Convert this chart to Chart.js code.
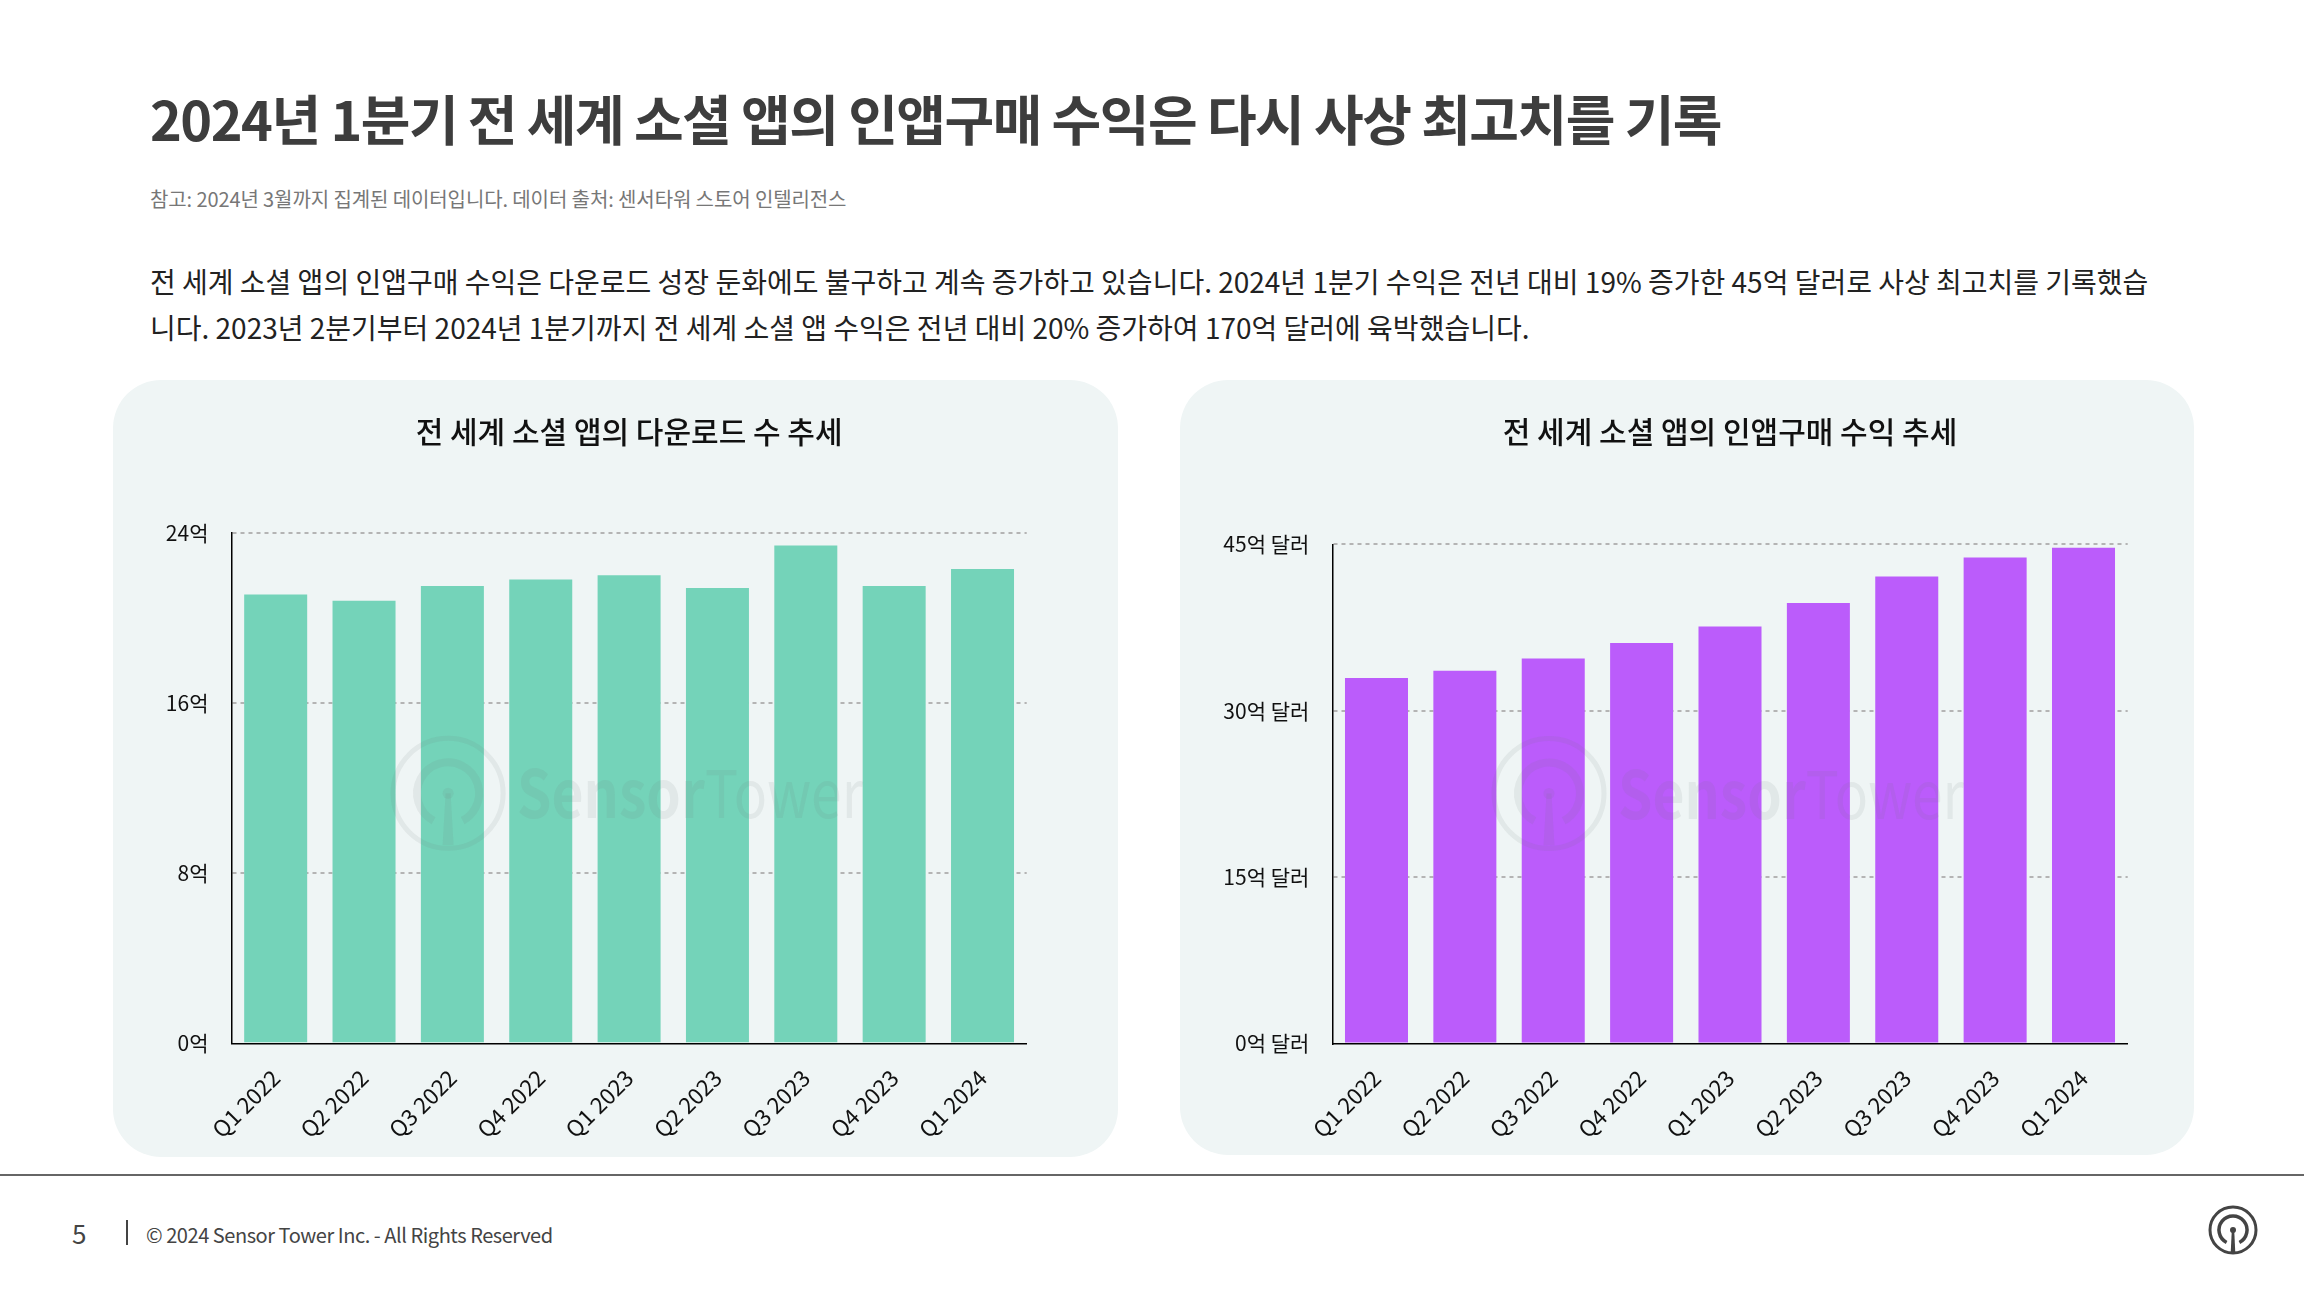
<!DOCTYPE html>
<html><head><meta charset="utf-8">
<script src="https://cdn.jsdelivr.net/npm/chart.js@4.4.1/dist/chart.umd.min.js"></script>
<style>
html,body{margin:0;padding:0;background:#fff;}
body{width:2304px;height:1296px;position:relative;overflow:hidden;font-family:'Noto Sans CJK KR','Noto Sans',sans-serif;}
.abs{position:absolute;white-space:nowrap;}
#title{left:150px;top:91px;font-size:54px;line-height:54px;font-weight:700;color:#3d3d3d;letter-spacing:-1.5px;}
#note{left:150px;top:189px;font-size:20px;line-height:20px;color:#777;letter-spacing:-0.1px;}
#body{left:150px;top:258px;font-size:28px;line-height:46px;color:#222;letter-spacing:0px;}
.panel{position:absolute;background:#eff5f5;border-radius:48px;}
#p1{left:113px;top:380px;width:1005px;height:777px;}
#p2{left:1180px;top:380px;width:1014px;height:775px;}
.panel canvas{position:absolute;left:0;top:0;}
#sep{left:0;top:1174px;width:2304px;height:2px;background:#666;}
#pg{left:72px;top:1220px;font-size:26px;line-height:26px;color:#444;}
#bar{left:126px;top:1220px;width:2px;height:25px;background:#444;}
#copy{left:146px;top:1225px;font-size:20px;line-height:20px;color:#444;letter-spacing:-0.45px;}
#logo{left:2205px;top:1202px;}
</style></head>
<body>
<div id="title" class="abs">2024년 1분기 전 세계 소셜 앱의 인앱구매 수익은 다시 사상 최고치를 기록</div>
<div id="note" class="abs">참고: 2024년 3월까지 집계된 데이터입니다. 데이터 출처: 센서타워 스토어 인텔리전스</div>
<div id="body" class="abs">전 세계 소셜 앱의 인앱구매 수익은 다운로드 성장 둔화에도 불구하고 계속 증가하고 있습니다. 2024년 1분기 수익은 전년 대비 19% 증가한 45억 달러로 사상 최고치를 기록했습<br>니다. 2023년 2분기부터 2024년 1분기까지 전 세계 소셜 앱 수익은 전년 대비 20% 증가하여 170억 달러에 육박했습니다.</div>
<div id="p1" class="panel"><div style="position:absolute;left:0;top:0;width:1005px;height:777px;"><canvas id="c1"></canvas></div></div>
<div id="p2" class="panel"><div style="position:absolute;left:0;top:0;width:1014px;height:775px;"><canvas id="c2"></canvas></div></div>
<div id="sep" class="abs"></div>
<div id="pg" class="abs">5</div>
<div id="bar" class="abs"></div>
<div id="copy" class="abs">© 2024 Sensor Tower Inc. - All Rights Reserved</div>
<svg id="logo" class="abs" width="56" height="56" viewBox="0 0 56 56">
  <circle cx="28" cy="28" r="23" fill="none" stroke="#444" stroke-width="3"/>
  <path d="M 21.6 40.5 A 14 14 0 1 1 34.4 40.5" fill="none" stroke="#444" stroke-width="3.5"/>
  <circle cx="28" cy="28" r="3" fill="#444"/>
  <path d="M 26.8 28 L 29.2 28 L 30.3 51 L 25.7 51 Z" fill="#444"/>
</svg>
<script>
const categories = ['Q1 2022','Q2 2022','Q3 2022','Q4 2022','Q1 2023','Q2 2023','Q3 2023','Q4 2023','Q1 2024'];
const downloads = [21.1, 20.8, 21.5, 21.8, 22.0, 21.4, 23.4, 21.5, 22.3];
const revenue = [32.95, 33.6, 34.7, 36.1, 37.6, 39.7, 42.1, 43.8, 44.7];
const downloadTicks = [0, 8, 16, 24];
const revenueTicks = [0, 15, 30, 45];
const downloadTitle = '전 세계 소셜 앱의 다운로드 수 추세';
const revenueTitle = '전 세계 소셜 앱의 인앱구매 수익 추세';
const downloadUnit = '억';
const revenueUnit = '억 달러';

const FONT = "'Noto Sans CJK KR','Noto Sans',sans-serif";

const watermark = {
  id: 'watermark',
  afterDatasetsDraw(chart) {
    const {ctx, chartArea} = chart;
    const mid = (chartArea.left + chartArea.right) / 2;
    const cx = mid - 181, cy = chartArea.bottom - 250;
    const col = 'rgba(105,115,115,0.10)';
    ctx.save();
    ctx.strokeStyle = col; ctx.fillStyle = col;
    ctx.lineWidth = 5;
    ctx.beginPath(); ctx.arc(cx, cy, 55, 0, Math.PI * 2); ctx.stroke();
    ctx.lineWidth = 8;
    ctx.beginPath(); ctx.arc(cx, cy, 31, 2.06, 1.08 + Math.PI * 2); ctx.stroke();
    ctx.beginPath(); ctx.arc(cx, cy, 5.5, 0, Math.PI * 2); ctx.fill();
    ctx.beginPath(); ctx.moveTo(cx - 2.5, cy); ctx.lineTo(cx + 2.5, cy); ctx.lineTo(cx + 5.5, cy + 52); ctx.lineTo(cx - 5.5, cy + 52); ctx.closePath(); ctx.fill();
    const fs = 66;
    ctx.font = `700 ${fs}px ${FONT}`;
    const w1 = ctx.measureText('Sensor').width;
    ctx.font = `400 ${fs}px ${FONT}`;
    const w2 = ctx.measureText('Tower').width;
    const sx = 346 / (w1 + w2);
    ctx.translate(mid - 112, cy + 25);
    ctx.scale(sx, 1);
    ctx.textBaseline = 'alphabetic';
    ctx.font = `700 ${fs}px ${FONT}`;
    ctx.fillText('Sensor', 0, 0);
    ctx.font = `400 ${fs}px ${FONT}`;
    ctx.fillText('Tower', w1, 0);
    ctx.restore();
  }
};

function makeChart(id, values, ticks, unit, title, color, yWidth, padRight, xHeight, titleBottom) {
  return new Chart(document.getElementById(id), {
    type: 'bar',
    data: { labels: categories, datasets: [{ data: values, backgroundColor: color, borderWidth: 0, categoryPercentage: 0.713, barPercentage: 1 }] },
    options: {
      responsive: true, maintainAspectRatio: false, animation: false,
      layout: { padding: { left: 0, right: padRight, top: 0, bottom: 0 } },
      plugins: {
        legend: { display: false }, tooltip: { enabled: false },
        title: { display: true, text: title, fullSize: false, color: '#111',
          font: { family: FONT, size: 30, weight: '500', lineHeight: 1.2 },
          padding: { top: 34, bottom: titleBottom } }
      },
      scales: {
        x: {
          grid: { display: false },
          border: { display: true, color: '#000', width: 1.5 },
          ticks: { color: '#111', font: { family: FONT, size: 22.5 }, minRotation: 45, maxRotation: 45, padding: 13 },
          afterFit(s) { s.height = xHeight; }
        },
        y: {
          min: ticks[0], max: ticks[ticks.length - 1],
          afterBuildTicks(s) { s.ticks = ticks.map(v => ({ value: v })); },
          grid: { color: c => c.tick && c.tick.value === 0 ? 'rgba(0,0,0,0)' : '#b4b4b4', lineWidth: 2, drawTicks: false },
          border: { display: true, color: '#000', width: 1.5, dash: [4, 4] },
          ticks: { color: '#111', font: { family: FONT, size: 21 }, padding: 23, callback: v => v + unit },
          afterFit(s) { s.width = yWidth; }
        }
      }
    },
    plugins: [watermark]
  });
}

Chart.defaults.font.family = FONT;
makeChart('c1', downloads, downloadTicks, downloadUnit, downloadTitle, '#74d3b9', 118.5, 91.3, 113.7, 82.8);
makeChart('c2', revenue, revenueTicks, revenueUnit, revenueTitle, '#bb5cfb', 152.3, 66.3, 111.5, 94.3);
</script>
</body></html>
